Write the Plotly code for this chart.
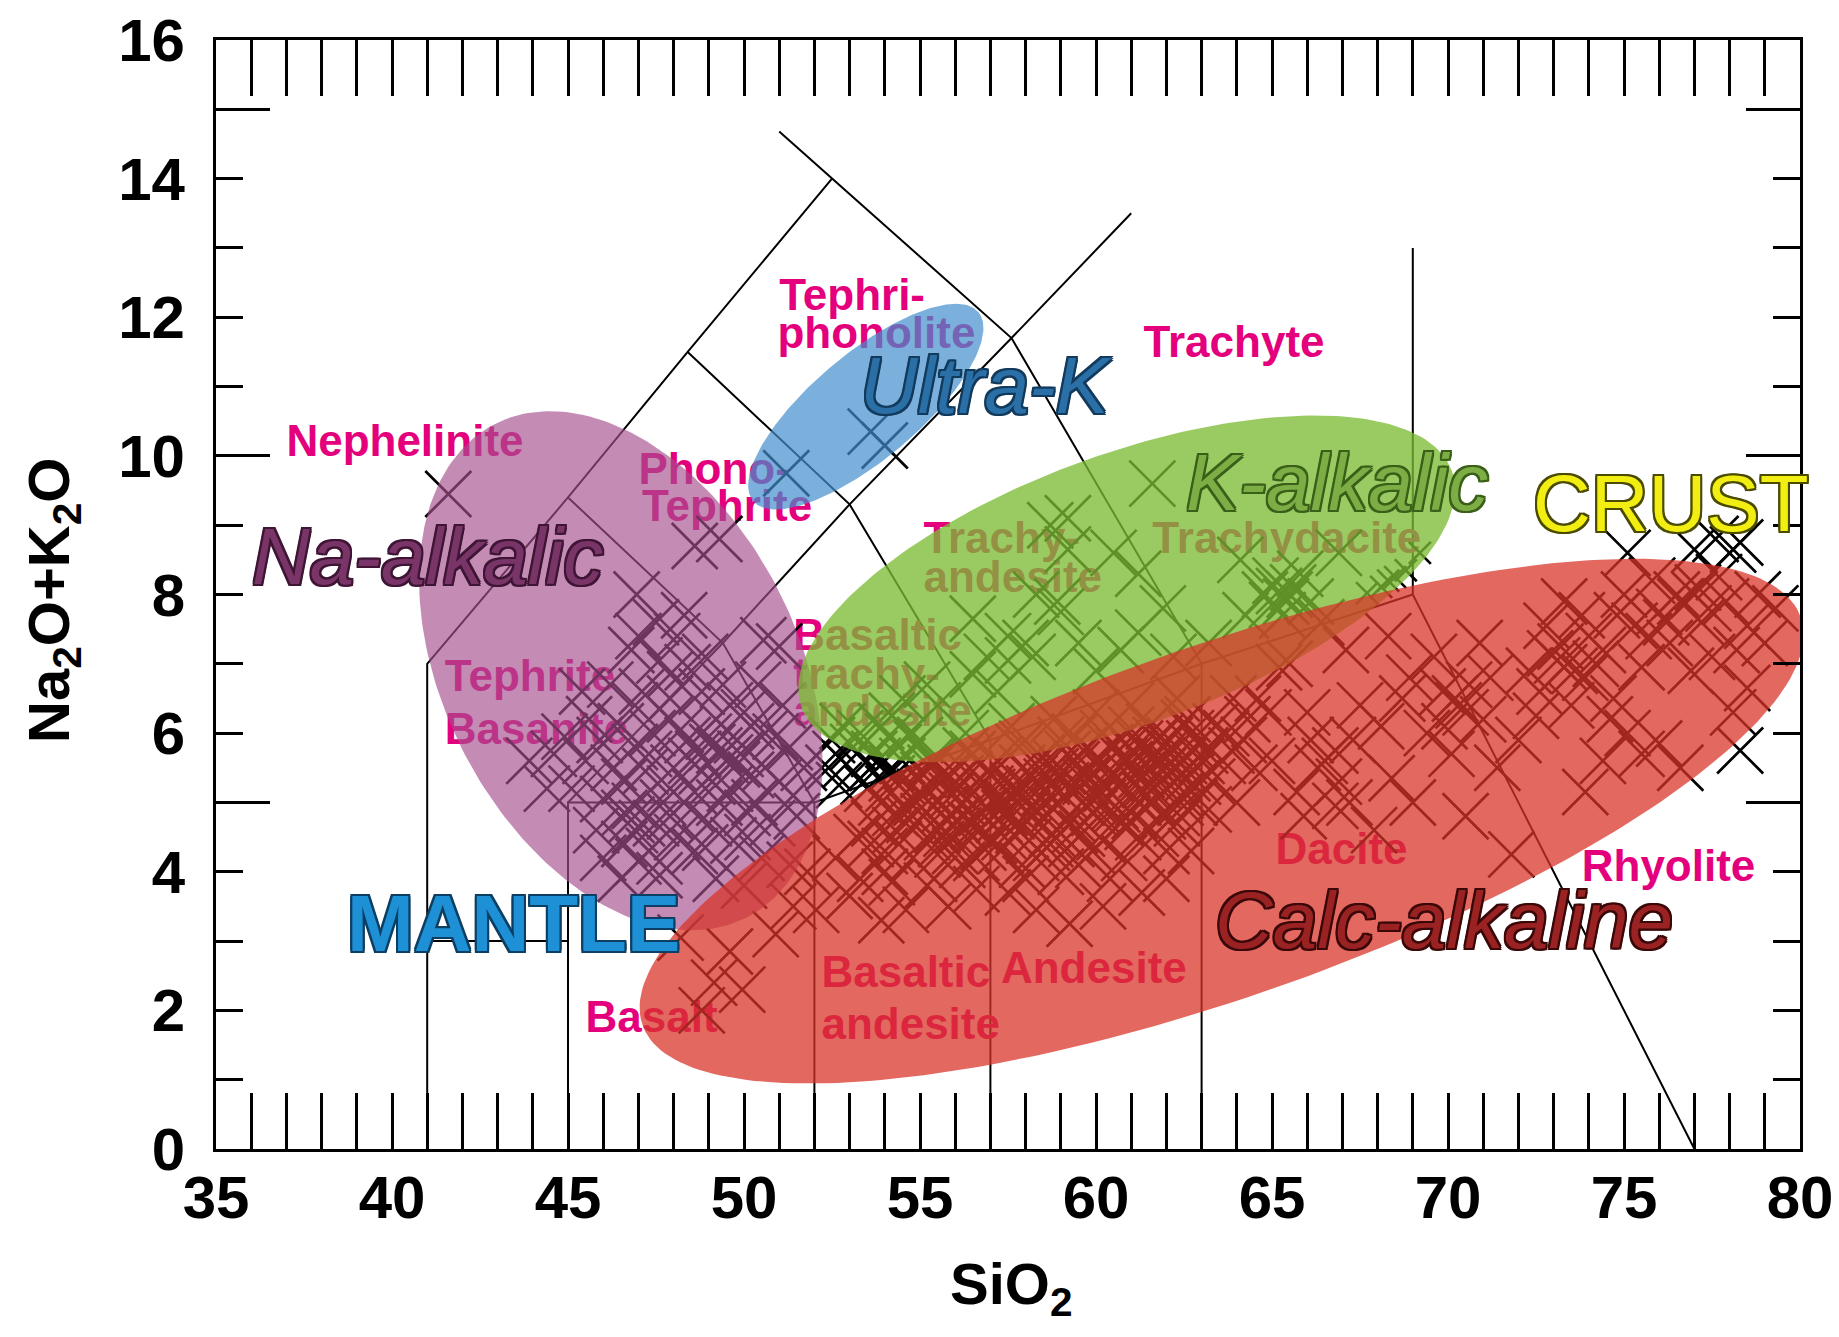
import numpy as np
import plotly.graph_objects as go

# ---------------- canvas / axes geometry ----------------
W, H = 1839, 1337
M_L, M_R, M_T, M_B = 216, 39, 40, 188
X_RANGE = (35, 80)
Y_RANGE = (0, 16)
PX_PER_X = (W - M_L - M_R) / (X_RANGE[1] - X_RANGE[0])
PX_PER_Y = (H - M_T - M_B) / (Y_RANGE[1] - Y_RANGE[0])

# ---------------- TAS field boundaries (SiO2 wt%, Na2O+K2O wt%) ----------------
tas_sio2 = [
    [41, 41, 45, 48.4, 52.5],
    [41, 45],
    [45, 45, 52, 57, 63, 69],
    [45, 49.4, 53, 57.6, 61],
    [45, 49.4, 52, 52],
    [48.4, 53, 57, 57],
    [51.0, 52.5, 57.6, 63, 63],
    [69, 69, 77],
]
tas_alk = [
    [0, 7, 9.4, 11.5, 14],
    [3, 3],
    [0, 5, 5, 5.9, 7, 8],
    [5, 7.3, 9.3, 11.7, 13.5],
    [9.4, 7.3, 5, 0],
    [11.5, 9.3, 5.9, 0],
    [14.68, 14, 11.7, 7, 0],
    [13, 8, 0],
]

# ---------------- rock-name labels (left edge, line centre) ----------------
rock_labels = ["Nephelinite", "Tephri-", "phonolite", "Trachyte", "Phono-", "Tephrite",
               "Trachy-", "andesite", "Trachydacite", "Tephrite", "Basanite",
               "Basaltic", "trachy-", "andesite", "Basalt", "Basaltic", "andesite",
               "Andesite", "Dacite", "Rhyolite"]
rock_label_sio2 = [37.0, 51.0, 50.95, 61.35, 47.0, 47.1,
                   55.1, 55.1, 61.6, 41.5, 41.5,
                   51.4, 51.4, 51.4, 45.5, 52.2, 52.2,
                   57.3, 65.1, 73.8]
rock_label_alk = [10.15, 12.27, 11.71, 11.59, 9.76, 9.22,
                  8.76, 8.20, 8.76, 6.77, 6.0,
                  7.36, 6.80, 6.26, 1.85, 2.50, 1.75,
                  2.55, 4.27, 4.03]

# ---------------- sample analyses ----------------
na_alkalic_sio2 = [46.95, 48.6, 49.3, 51.0, 47.5, 48.1, 46.8, 47.6, 48.4, 46.2, 47.1, 47.9, 48.8,
                   49.6, 50.4, 45.6, 46.5, 47.4, 48.2, 49.0, 49.8, 50.6, 51.3, 44.6, 45.5, 46.3,
                   47.2, 48.0, 48.8, 49.5, 50.2, 51.0, 51.7, 45.1, 46.0, 46.9, 47.7, 48.5, 49.3,
                   50.1, 50.8, 51.5, 45.8, 46.6, 47.3, 47.0, 48.1, 48.9, 49.7, 50.5, 51.3, 46.5,
                   47.6, 49.2, 50.0, 48.4, 49.2, 47.9, 50.2, 49.6, 48.6, 47.5, 50.9, 46.9, 45.9,
                   43.9, 44.4, 44.9, 50.55,
                   47.3, 48.5, 49.9, 50.6, 49.1, 47.9, 46.6, 50.3, 49.0, 47.9, 46.9, 48.6, 50.1,
                   47.9, 46.9, 49.4, 48.9, 47.0, 48.3, 50.0, 51.1, 45.4, 46.0, 47.6, 51.4,
                   49.3, 49.6, 49.1, 49.8, 46.8, 47.1, 46.6, 48.7]
na_alkalic_alk = [8.0, 8.7, 8.8, 7.25, 7.6, 7.4, 7.2, 7.05, 6.95, 6.7, 6.6, 6.5, 6.6,
                  6.4, 6.7, 6.2, 6.1, 6.0, 6.05, 5.95, 5.9, 6.0, 5.8, 5.7, 5.6, 5.5,
                  5.45, 5.5, 5.45, 5.6, 5.4, 5.3, 5.5, 5.2, 5.05, 4.95, 5.0, 4.9, 5.0,
                  4.85, 4.7, 4.8, 4.6, 4.4, 4.3, 4.15, 4.5, 4.35, 4.45, 4.2, 4.1, 3.9,
                  3.95, 3.9, 3.8, 5.9, 6.2, 6.85, 6.1, 5.2, 5.15, 4.7, 5.95, 5.8, 5.9,
                  5.6, 5.2, 5.95, 7.34,
                  5.7, 5.6, 5.7, 5.5, 5.3, 5.2, 5.3, 5.0, 4.7, 4.8, 4.6, 4.3, 4.5,
                  6.2, 6.4, 6.7, 7.1, 7.4, 7.7, 6.3, 6.4, 6.6, 4.2, 4.15, 5.1,
                  5.75, 5.65, 5.8, 5.55, 4.75, 4.7, 4.85, 5.7]

ultra_k_sio2 = [54.0, 53.6]
ultra_k_alk = [10.15, 10.35]

k_alkalic_sio2 = [61.6, 59.2, 58.7, 59.2, 60.5, 61.2, 58.3, 58.9, 59.0, 56.5, 57.5, 58.0, 56.9,
                  57.5, 58.2, 60.7, 61.2, 61.9, 62.2, 56.5, 57.2, 54.5, 55.5, 54.2, 55.2, 64.1,
                  64.25, 64.8, 65.1, 65.4, 65.6, 65.8, 65.3, 66.1, 65.0, 66.9, 63.2, 60.0, 59.5,
                  65.2, 65.5]
k_alkalic_alk = [9.6, 9.1, 9.0, 8.65, 8.6, 8.3, 8.0, 7.9, 7.75, 7.65, 7.4, 7.3, 7.1,
                 7.05, 7.1, 7.2, 7.45, 7.8, 7.1, 6.85, 6.6, 6.5, 6.4, 6.25, 6.7, 8.5,
                 7.7, 8.0, 8.2, 7.9, 8.1, 8.3, 7.7, 7.9, 7.85, 8.6, 7.3, 6.9, 7.3,
                 8.05, 8.0]

calc_alk_sio2 = [
    # basalt - basaltic andesite
    48.2, 48.8, 49.15, 49.6, 49.95, 50.9, 51.4, 52.05, 51.8, 52.6, 53.0, 53.9, 54.6, 53.3, 54.2,
    55.2, 55.8, 56.6, 57.5, 58.3, 59.25, 60.2, 60.4, 61.3, 62.0, 56.2, 59.0, 62.7,
    # andesite core
    53.6, 53.9, 54.3, 54.5, 54.8, 55.1, 55.3, 55.6, 55.9, 56.1, 56.4, 56.6, 56.9, 57.2, 57.4,
    57.7, 57.9, 58.2, 58.4, 58.7, 58.9, 59.2, 59.4, 59.7, 59.9, 60.2, 60.4, 60.7, 60.9, 61.2,
    61.4, 61.7, 61.9, 62.2, 62.4, 62.7, 62.9, 63.2, 53.8, 55.0, 56.3, 57.6, 58.8, 60.0, 61.0,
    62.3, 54.0, 55.4, 54.6, 55.7, 56.8, 57.9, 59.0, 60.1, 61.1, 62.1, 55.2, 56.4, 57.6, 58.8,
    60.0, 61.2, 62.4, 63.0, 63.4, 59.5, 58.0, 60.8, 62.0,
    53.7, 54.1, 54.4, 54.9, 55.2, 55.5, 55.8, 56.0, 56.2, 56.7, 57.0, 57.3, 57.5, 57.8, 58.1,
    58.3, 58.6, 58.9, 59.1, 59.3, 59.6, 59.8, 60.1, 60.3, 60.6, 60.8, 61.1, 61.3, 61.6, 61.8,
    62.0, 62.3, 62.5, 62.8, 63.0, 63.3, 56.5, 57.8, 59.0, 60.2, 61.5, 62.6, 55.4, 54.2, 53.5,
    53.2, 54.0, 63.6,
    56.05, 56.35, 56.75, 57.05, 57.35, 57.65, 57.95, 58.25, 58.55, 58.85, 59.15, 59.45, 59.75,
    60.05, 60.35, 60.65, 60.95, 61.25, 61.55, 61.85, 55.6, 55.9, 56.9, 57.4, 58.4, 58.9, 59.9,
    60.4, 61.4, 61.9, 62.2, 55.0, 54.7, 54.3, 62.6, 62.9,
    55.35, 55.75, 56.15, 56.55, 56.95, 57.25, 57.7, 58.05, 58.45, 58.75, 59.05, 59.35, 59.65,
    59.95, 60.25, 60.55, 60.85, 61.15, 61.45, 61.75, 62.05, 62.35, 62.65, 56.3, 57.1, 57.9,
    58.6, 59.4, 60.2, 61.0, 61.7, 62.5, 54.8, 55.5, 56.8, 58.1, 59.6, 60.9, 62.3, 63.1,
    # dacite
    63.85, 64.3, 64.6, 65.2, 65.7, 66.3, 66.8, 66.8, 67.1, 67.5, 68.1, 68.4, 68.9, 69.4, 69.85,
    70.3, 70.6, 70.1, 71.0, 69.0, 67.9, 66.0, 65.0, 64.0, 70.9, 69.6, 68.3, 66.4, 65.5, 64.5,
    71.4, 70.5, 65.9, 67.2, 69.9, 68.7, 67.3, 66.1, 64.9, 63.9, 71.2,
    66.5, 66.9, 70.2, 70.5, 64.2, 63.7,
    # rhyolite
    72.0, 72.5, 72.8, 73.1, 73.3, 73.9, 73.9, 74.4, 74.4, 75.0, 75.1, 75.3, 75.5, 75.5, 76.0,
    76.0, 76.6, 76.6, 77.1, 77.7, 77.9, 78.5, 79.0, 78.5, 78.1, 74.0, 74.8, 76.3, 77.2, 79.3,
    73.5, 76.9, 77.5, 78.8, 71.8, 72.3, 75.8, 74.7, 73.3, 72.9, 73.6, 73.2,
    74.2, 75.7, 76.5, 77.4, 78.2, 73.8, 74.6, 72.6, 76.2, 77.0,
]
calc_alk_alk = [
    3.05, 2.0, 2.4, 2.85, 2.3, 3.1, 3.5, 3.45, 4.0, 4.2, 3.65, 3.3, 3.45, 3.9, 3.85,
    3.8, 3.5, 3.75, 3.7, 3.45, 3.25, 3.5, 3.9, 3.7, 3.9, 4.1, 4.0, 4.3,
    4.4, 5.0, 4.6, 5.3, 4.2, 4.8, 5.5, 4.4, 5.1, 4.6, 5.4, 4.2, 4.9, 5.6, 4.5,
    5.2, 4.1, 4.8, 5.5, 4.4, 5.0, 5.7, 4.6, 5.3, 4.3, 5.0, 5.8, 4.7, 5.4, 4.5,
    5.1, 5.9, 4.8, 5.5, 5.0, 6.0, 5.3, 4.9, 5.6, 5.9, 6.0, 6.1, 6.2, 6.3, 6.4,
    6.5, 4.0, 3.9, 4.9, 4.9, 5.3, 5.5, 5.4, 5.6, 5.7, 5.9, 4.5, 4.7, 4.8, 4.9,
    4.9, 5.0, 5.1, 5.6, 6.1, 4.1, 3.9, 4.2, 4.3,
    4.7, 5.2, 4.4, 5.0, 5.2, 4.6, 5.4, 4.3, 5.0, 4.6, 5.2, 4.3, 5.0, 4.6, 5.2,
    4.2, 5.3, 4.6, 5.1, 4.4, 5.0, 5.5, 4.5, 5.2, 4.9, 5.6, 4.8, 5.4, 5.0, 5.6,
    5.2, 4.7, 5.6, 5.0, 5.9, 5.3, 5.7, 5.8, 5.9, 6.0, 6.1, 6.2, 5.6, 5.5, 5.2,
    4.5, 4.3, 5.6,
    4.75, 5.05, 4.85, 5.15, 4.95, 5.25, 5.05, 5.35, 5.15, 5.45, 5.25, 5.55, 5.35,
    5.65, 5.45, 5.75, 5.55, 5.85, 5.65, 5.95, 4.65, 5.25, 5.45, 4.85, 4.95, 5.55, 5.05,
    5.35, 5.25, 5.45, 5.75, 5.15, 4.75, 4.85, 5.35, 5.65,
    4.95, 4.55, 5.35, 4.65, 5.45, 4.75, 5.15, 4.85, 5.65, 4.55, 5.45, 4.75, 5.75,
    4.85, 5.55, 4.95, 5.85, 5.05, 5.55, 5.25, 5.75, 5.35, 5.85, 5.75, 4.45, 5.85,
    4.35, 5.95, 4.45, 6.05, 4.55, 6.15, 5.05, 4.25, 4.35, 4.45, 4.55, 4.65, 4.85, 5.75,
    # dacite
    5.75, 6.2, 6.5, 6.95, 5.15, 5.5, 5.75, 4.95, 7.2, 6.4, 6.1, 5.35, 6.8, 6.0, 6.6,
    6.4, 6.7, 5.7, 6.2, 5.0, 4.6, 6.3, 5.6, 5.0, 7.3, 7.1, 7.4, 7.6, 7.0, 5.5,
    5.5, 4.8, 4.8, 5.0, 6.1, 6.5, 5.9, 5.9, 6.3, 6.5, 6.8,
    5.6, 5.3, 6.5, 6.3, 5.9, 6.0,
    # rhyolite
    5.9, 6.25, 7.55, 7.05, 7.9, 6.8, 5.15, 7.2, 5.6, 8.0, 6.0, 7.55, 6.95, 5.7, 7.75,
    5.85, 7.9, 5.5, 8.1, 8.25, 7.9, 7.55, 7.3, 6.65, 6.3, 7.4, 7.7, 7.3, 7.6, 7.8,
    6.4, 6.9, 7.1, 8.0, 4.25, 6.9, 8.2, 6.5, 6.95, 7.15, 6.9, 7.25,
    7.0, 7.4, 8.0, 7.8, 7.2, 7.7, 6.2, 6.6, 7.6, 8.0,
]

other_sio2 = [41.6, 51.2, 52.5, 52.9, 53.3, 53.7, 54.1, 54.5, 54.9, 52.7, 53.4, 54.2, 55.3,
              52.4, 52.8, 53.1, 53.6, 53.9, 54.4, 54.7, 55.1, 52.6,
              75.1, 77.0, 77.6, 78.1, 78.3, 78.3]
other_alk = [9.45, 9.75, 5.9, 5.55, 6.0, 5.7, 5.95, 5.6, 5.85, 5.25, 5.3, 5.35, 5.6,
             5.5, 6.1, 5.8, 5.5, 6.1, 5.8, 6.0, 5.4, 5.7,
             8.6, 8.65, 8.8, 8.65, 8.75, 5.75]

boundary_sio2 = [67.7, 68.1, 68.3, 68.5, 68.8, 69.2]
boundary_alk = [8.02, 8.11, 8.2, 8.25, 8.35, 8.6]

# ---------------- suite fields: centre (SiO2, alk), semi-axes (px), tilt (deg) ----------------
suite_fields = {
    "Na-alkalic":    dict(c=(46.5, 6.90),  a=277, b=177, tilt=-63,  fill="rgba(166,79,141,0.66)"),
    "Ultra-K":       dict(c=(53.46, 10.71), a=147, b=53,  tilt=40,   fill="rgba(69,142,205,0.70)"),
    "K-alkalic":     dict(c=(60.87, 8.08), a=346, b=135, tilt=20,   fill="rgba(124,187,51,0.77)"),
    "Calc-alkaline": dict(c=(63.57, 4.73), a=614, b=175, tilt=19.4, fill="rgba(216,51,40,0.74)"),
}


def ellipse_path(cx, cy, a_px, b_px, tilt_deg, n=240):
    t = np.linspace(0, 2 * np.pi, n)
    th = np.radians(tilt_deg)
    dx = a_px * np.cos(t) * np.cos(th) - b_px * np.sin(t) * np.sin(th)
    dy = a_px * np.cos(t) * np.sin(th) + b_px * np.sin(t) * np.cos(th)
    return cx + dx / PX_PER_X, cy + dy / PX_PER_Y


def outline(color, w=2):
    offs = [(-w, -w), (w, -w), (-w, w), (w, w), (0, w), (0, -w), (w, 0), (-w, 0)]
    return ", ".join(f"{ox}px {oy}px 0 {color}" for ox, oy in offs)


fig = go.Figure()

# classification grid
bx, by = [], []
for xs, ys in zip(tas_sio2, tas_alk):
    bx += list(xs) + [None]
    by += list(ys) + [None]
fig.add_trace(go.Scatter(x=bx, y=by, mode="lines", line=dict(color="black", width=2),
                         hoverinfo="skip", showlegend=False))

# field names
fig.add_trace(go.Scatter(
    x=rock_label_sio2, y=rock_label_alk, text=rock_labels, mode="text",
    textposition="middle right",
    textfont=dict(family="Liberation Sans, Arial, sans-serif", size=44,
                  color="#E4007C", weight="bold"),
    hoverinfo="skip", showlegend=False))

# samples
for xs, ys, sz in [(na_alkalic_sio2, na_alkalic_alk, 46),
                   (ultra_k_sio2, ultra_k_alk, 46),
                   (k_alkalic_sio2, k_alkalic_alk, 46),
                   (calc_alk_sio2, calc_alk_alk, 46),
                   (other_sio2, other_alk, 46),
                   (boundary_sio2, boundary_alk, 22)]:
    fig.add_trace(go.Scatter(
        x=xs, y=ys, mode="markers",
        marker=dict(symbol="x-thin", size=sz, color="black",
                    line=dict(width=2.7, color="black")),
        hoverinfo="skip", showlegend=False))

# translucent suite envelopes
for name, f in suite_fields.items():
    ex, ey = ellipse_path(f["c"][0], f["c"][1], f["a"], f["b"], f["tilt"])
    fig.add_trace(go.Scatter(x=ex, y=ey, mode="lines", fill="toself",
                             fillcolor=f["fill"], line=dict(width=0, color=f["fill"]),
                             hoverinfo="skip", showlegend=False, name=name))

# carrier for the long-tick overlay axis
fig.add_trace(go.Scatter(x=[None], y=[None], yaxis="y2", showlegend=False, hoverinfo="skip"))

# suite names and reservoirs
suite_names = [
    ("Na-alkalic", 41.0, 8.55, "#7A3568", "#3E1534", "italic", "normal"),
    ("Ultra-K", 56.9, 11.02, "#2A6FA6", "#123A5C", "italic", "normal"),
    ("K-alkalic", 66.85, 9.61, "#7DAE45", "#3A5F18", "italic", "normal"),
    ("Calc-alkaline", 69.9, 3.3, "#9A2222", "#3A0808", "italic", "normal"),
    ("MANTLE", 43.45, 3.26, "#1E90D6", "#0D3E63", "normal", "bold"),
    ("CRUST", 76.33, 9.32, "#F2EE12", "#4A4A00", "normal", "normal"),
]
for txt, sx, sy, col, edge, style, weight in suite_names:
    fig.add_annotation(
        x=sx, y=sy, xref="x", yref="y", text=txt, showarrow=False,
        xanchor="center", yanchor="middle",
        font=dict(family="Liberation Sans, Arial, sans-serif", size=80, color=col,
                  style=style, weight=weight, shadow=outline(edge, 2)))

# axis titles
fig.add_annotation(x=0.502, y=-0.125, xref="paper", yref="paper", text="SiO<sub>2</sub>",
                   showarrow=False, xanchor="center", yanchor="middle",
                   font=dict(family="Liberation Sans, Arial, sans-serif", size=58,
                             color="black", weight="bold"))
fig.add_annotation(x=-0.103, y=0.495, xref="paper", yref="paper",
                   text="Na<sub>2</sub>O+K<sub>2</sub>O", textangle=-90,
                   showarrow=False, xanchor="center", yanchor="middle",
                   font=dict(family="Liberation Sans, Arial, sans-serif", size=58,
                             color="black", weight="bold"))

tick_font = dict(family="Liberation Sans, Arial, sans-serif",
                 size=60, color="black", weight="bold")

fig.update_layout(
    width=W, height=H,
    margin=dict(l=M_L, r=M_R, t=M_T, b=M_B),
    paper_bgcolor="white", plot_bgcolor="white",
    showlegend=False,
    xaxis=dict(range=list(X_RANGE), tickvals=list(range(35, 81, 5)),
               ticks="inside", ticklen=56, tickwidth=3, tickcolor="black",
               showline=True, linewidth=3, linecolor="black", mirror="allticks",
               showgrid=False, zeroline=False, tickfont=tick_font,
               ticklabelstandoff=-6, automargin=False,
               minor=dict(dtick=1, tick0=35, ticks="inside", ticklen=27,
                          tickwidth=2.5, tickcolor="black", showgrid=False)),
    yaxis=dict(range=list(Y_RANGE), tickvals=list(range(0, 17, 2)),
               ticks="inside", ticklen=27, tickwidth=3, tickcolor="black",
               showline=True, linewidth=3, linecolor="black", mirror="allticks",
               showgrid=False, zeroline=False, tickfont=tick_font,
               ticklabelstandoff=16, automargin=False,
               minor=dict(dtick=1, tick0=0, ticks="inside", ticklen=27,
                          tickwidth=2.5, tickcolor="black", showgrid=False)),
    yaxis2=dict(range=list(Y_RANGE), overlaying="y", anchor="x", side="left",
                tickvals=[0, 5, 10, 15], ticks="inside", ticklen=54, tickwidth=3,
                tickcolor="black", showline=True, linewidth=3, linecolor="black",
                mirror="allticks", showticklabels=False, showgrid=False,
                zeroline=False, automargin=False),
)

fig.write_html("out.html")
